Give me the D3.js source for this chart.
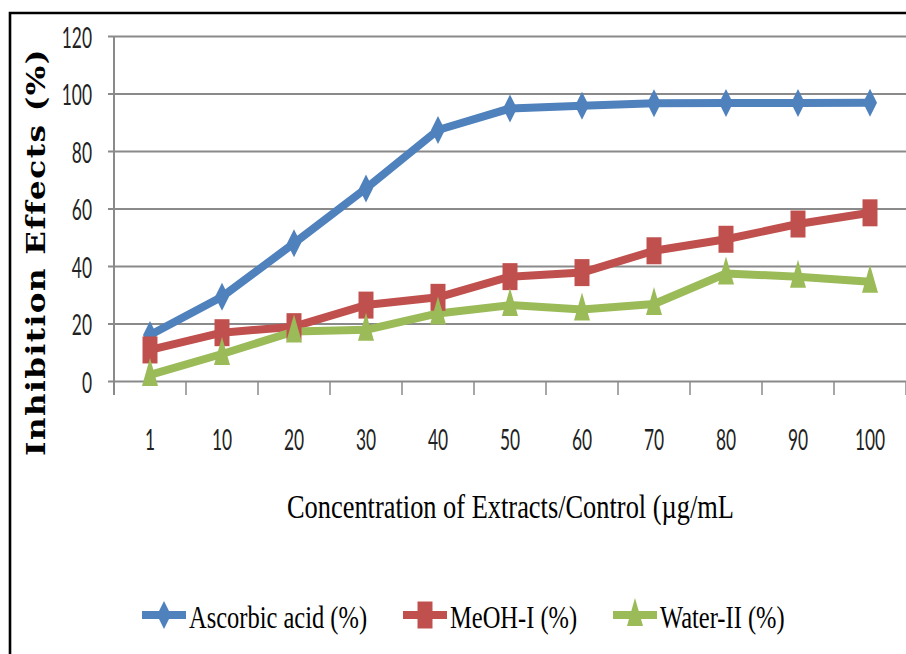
<!DOCTYPE html>
<html>
<head>
<meta charset="utf-8">
<script src="https://cdn.jsdelivr.net/npm/d3@7"></script>
<style>
  html, body { margin: 0; padding: 0; background: #fff; }
  svg { display: block; }
</style>
</head>
<body>
<svg id="chart" width="906" height="654"></svg>
<script>
// Concentrations on the category axis (µg/mL)
const categories = ["1", "10", "20", "30", "40", "50", "60", "70", "80", "90", "100"];

// Inhibition effects (%) per concentration
const ascorbicAcid = [16, 29.3, 47.9, 67, 87.3, 94.8, 95.7, 96.6, 96.7, 96.7, 96.8];
const meohI        = [10.8, 16.8, 18.9, 26.4, 29.1, 36.3, 37.7, 45.3, 49.3, 54.6, 58.5];
const waterII      = [2.1, 9.4, 17.2, 17.8, 23.5, 26.4, 24.9, 26.8, 37.4, 36.3, 34.5];

const yTickValues = [0, 20, 40, 60, 80, 100, 120];
const seriesNames = ["Ascorbic acid (%)", "MeOH-I (%)", "Water-II (%)"];
const xTitle = "Concentration of Extracts/Control (µg/mL";
const yTitle = "Inhibition Effects (%)";

const series = [
  { name: seriesNames[0], values: ascorbicAcid, color: "#4F81BD", marker: "diamond" },
  { name: seriesNames[1], values: meohI,        color: "#C0504D", marker: "square" },
  { name: seriesNames[2], values: waterII,      color: "#9BBB59", marker: "triangle" }
];

const svg = d3.select("#chart");
const plot = { left: 114, right: 906, top: 36, bottom: 381 };

const x = d3.scaleBand().domain(categories).range([plot.left, plot.right]).padding(0);
const y = d3.scaleLinear().domain([0, 120]).range([plot.bottom, plot.top]);
const cx = c => x(c) + x.bandwidth() / 2;

const GRID = "#8a8a8a";
const tickFont = "Lato, 'Open Sans', sans-serif";
const serif = "'Liberation Serif', 'Times New Roman', serif";

// Outer frame (only the left and top edges fall inside the canvas)
svg.append("path")
  .attr("d", "M10,660 L10,13 L912,13")
  .attr("fill", "none")
  .attr("stroke", "#000")
  .attr("stroke-width", 2.6);

// Y axis with horizontal gridlines
const yAxis = svg.append("g")
  .attr("transform", `translate(${plot.left},0)`)
  .call(d3.axisLeft(y).tickValues(yTickValues).tickSize(6));
yAxis.select(".domain").remove();
yAxis.selectAll(".tick line")
  .attr("x1", -6)
  .attr("x2", plot.right - plot.left + 4)
  .attr("stroke", GRID)
  .attr("stroke-width", 2);
yAxis.selectAll(".tick text")
  .attr("x", 0).attr("y", 0).attr("dy", null)
  .attr("text-anchor", "end")
  .attr("transform", "translate(-22,11) scale(0.62,1)")
  .attr("font-family", tickFont)
  .attr("font-size", 28)
  .attr("fill", "#222");

// Vertical axis line, running a little past the baseline
svg.append("line")
  .attr("x1", plot.left).attr("x2", plot.left)
  .attr("y1", plot.top).attr("y2", plot.bottom + 14)
  .attr("stroke", GRID).attr("stroke-width", 2);

// Category boundary tick marks on the X axis
const boundaries = categories.map(c => x(c)).concat([plot.right]).slice(1);
svg.append("g").selectAll("line")
  .data(boundaries)
  .join("line")
  .attr("x1", d => d).attr("x2", d => d)
  .attr("y1", plot.bottom).attr("y2", plot.bottom + 14)
  .attr("stroke", GRID).attr("stroke-width", 1.5);

// X tick labels at category centres
const xAxis = svg.append("g")
  .attr("transform", `translate(0,${plot.bottom})`)
  .call(d3.axisBottom(x).tickSize(0));
xAxis.select(".domain").remove();
xAxis.selectAll(".tick text")
  .attr("y", 0).attr("dy", null)
  .attr("text-anchor", "middle")
  .attr("transform", "translate(0,69) scale(0.62,1)")
  .attr("font-family", tickFont)
  .attr("font-size", 28)
  .attr("fill", "#222");

// Marker shapes (tall, narrow)
function markerPath(kind) {
  if (kind === "diamond") return "M0,-14 L7,0 L0,14 L-7,0 Z";
  if (kind === "square") return "M-7.5,-13.5 L7.5,-13.5 L7.5,13.5 L-7.5,13.5 Z";
  return "M0,-17 L8,11 L-8,11 Z";
}

// Series lines and markers
const line = d3.line()
  .x((d, i) => cx(categories[i]))
  .y(d => y(d));

series.forEach(s => {
  svg.append("path")
    .datum(s.values)
    .attr("d", line)
    .attr("fill", "none")
    .attr("stroke", s.color)
    .attr("stroke-width", 8)
    .attr("stroke-linejoin", "round");
});
series.forEach(s => {
  svg.append("g").selectAll("path")
    .data(s.values)
    .join("path")
    .attr("d", markerPath(s.marker))
    .attr("transform", (d, i) => `translate(${cx(categories[i])},${y(d)})`)
    .attr("fill", s.color);
});

// Axis titles
svg.append("text")
  .attr("transform", "translate(287,518) scale(0.8,1)")
  .attr("font-family", serif)
  .attr("font-size", 33)
  .attr("fill", "#000")
  .text(xTitle);

svg.append("text")
  .attr("transform", "translate(45,252) scale(0.82,1) rotate(-90)")
  .attr("text-anchor", "middle")
  .attr("font-family", "'DejaVu Serif', serif")
  .attr("font-weight", "bold")
  .attr("font-size", 31)
  .attr("letter-spacing", 1.5)
  .attr("fill", "#000")
  .text(yTitle);

// Legend
const legendX = [142, 403, 613];
const legendY = 615;
const legend = svg.append("g");
series.forEach((s, i) => {
  const g = legend.append("g").attr("transform", `translate(${legendX[i]},${legendY})`);
  g.append("line")
    .attr("x1", 0).attr("x2", 44)
    .attr("y1", 0).attr("y2", 0)
    .attr("stroke", s.color).attr("stroke-width", 8);
  g.append("path")
    .attr("d", markerPath(s.marker))
    .attr("transform", "translate(22,0)")
    .attr("fill", s.color);
  g.append("text")
    .attr("transform", "translate(47,13) scale(0.79,1)")
    .attr("font-family", serif)
    .attr("font-size", 31)
    .attr("fill", "#000")
    .text(s.name);
});
</script>
</body>
</html>
